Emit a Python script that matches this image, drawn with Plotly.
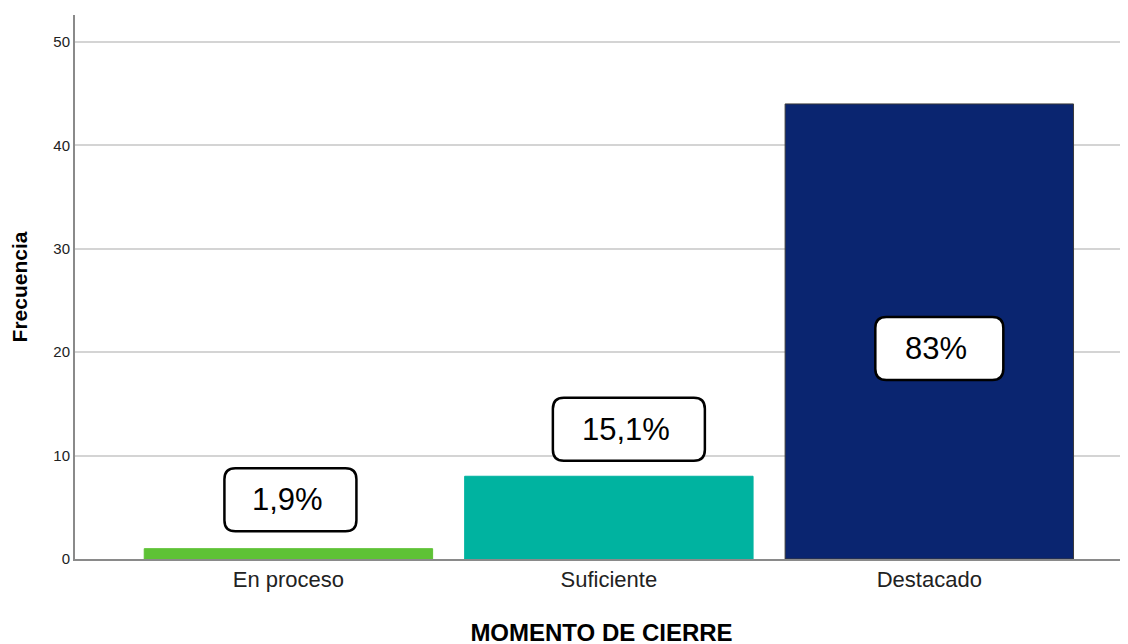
import plotly.graph_objects as go

# data
categories = ["En proceso", "Suficiente", "Destacado"]
frecuencia = [1, 8, 44]
porcentaje = ["1,9%", "15,1%", "83%"]

# styles
bar_colors = ["#5EC236", "#00B3A0", "#0A2570"]
bar_lines = ["#5EC236", "#00B3A0", "#3a3a3a"]
box_widths = [132, 152, 128]
box_height = 63
radius = 11
FONT = "Liberation Sans, Arial"


def rounded_box(cx, cy, w, h, r):
    x0, x1 = cx - w / 2, cx + w / 2
    y0, y1 = cy - h / 2, cy + h / 2
    return (f"M {x0 + r},{y0} H {x1 - r} Q {x1},{y0} {x1},{y0 + r} "
            f"V {y1 - r} Q {x1},{y1} {x1 - r},{y1} H {x0 + r} "
            f"Q {x0},{y1} {x0},{y1 - r} V {y0 + r} Q {x0},{y0} {x0 + r},{y0} Z")


xs = list(range(len(categories)))

fig = go.Figure()
fig.add_trace(go.Bar(
    x=xs, y=frecuencia, width=0.9,
    marker=dict(color=bar_colors, line=dict(color=bar_lines, width=1)),
    hoverinfo="skip"))

# label boxes: above the bar when it is short, inside it when tall
for i, (v, lab) in enumerate(zip(frecuencia, porcentaje)):
    if v > 20:
        anchor, dx, dy = v / 2, 10, -17
    else:
        anchor, dx, dy = v, 2 + 18 * i, 49 - 2 * i
    fig.add_shape(type="path", xref="x", yref="y",
                  xsizemode="pixel", ysizemode="pixel",
                  xanchor=i, yanchor=anchor,
                  path=rounded_box(dx, dy, box_widths[i], box_height, radius),
                  fillcolor="white", line=dict(color="black", width=2.5),
                  layer="above")
    fig.add_annotation(x=i, y=anchor, xshift=dx - 3, yshift=dy, text=lab,
                       showarrow=False,
                       font=dict(family=FONT, size=31, color="black"))

fig.update_xaxes(
    range=[-0.666, 2.62], tickvals=xs, ticktext=categories,
    showline=True, linecolor="#8a8a8a", linewidth=2, layer="below traces",
    showgrid=False, ticks="", zeroline=False,
    tickfont=dict(family=FONT, size=22, color="#222"),
    title=dict(text="<b>MOMENTO DE CIERRE</b>", standoff=33,
               font=dict(family=FONT, size=24, color="black")))
fig.update_yaxes(
    range=[0, 52.6], tickvals=[0, 10, 20, 30, 40, 50],
    showline=True, linecolor="#8a8a8a", linewidth=2, layer="below traces",
    showgrid=True, gridcolor="#d4d4d4", gridwidth=2, zeroline=False, ticks="",
    tickfont=dict(family=FONT, size=15, color="#222"),
    title=dict(text="<b>Frecuencia</b>", standoff=22,
               font=dict(family=FONT, size=21, color="black")))

# page body has an 8px offset, so margins are shifted to match
fig.update_layout(
    width=1128, height=644, template="plotly_white",
    plot_bgcolor="white", paper_bgcolor="white",
    margin=dict(l=67, r=8, t=7, b=93), showlegend=False)

fig.write_html("out.html")
